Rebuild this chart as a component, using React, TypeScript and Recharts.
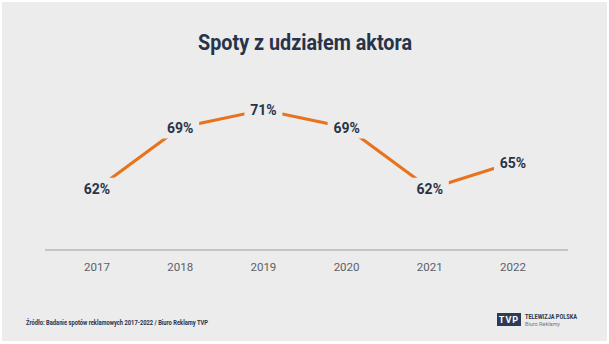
import React from 'react';
import { LineChart, Line, XAxis, YAxis, LabelList } from 'recharts';

// Spoty z udziałem aktora, 2017-2022 (%)
const years = ['2017', '2018', '2019', '2020', '2021', '2022'];
const shares = [62, 69, 71, 69, 62, 65];

const BG = '#ebeceb';
const NAVY = '#28334a';
const ORANGE = '#e8731f';

const data = years.map((year, i) => ({ year, share: shares[i] }));

const ValueLabel = (props: any) => {
  const { x, y, value } = props;
  return (
    <g>
      <rect x={x - 19} y={y - 11} width={38} height={22} fill={BG} />
      <text
        x={x}
        y={y}
        dy={5}
        textAnchor="middle"
        fontFamily="Roboto"
        fontWeight={700}
        fontSize={14}
        fill={NAVY}
      >
        {value}%
      </text>
    </g>
  );
};

export default function App() {
  return (
    <div style={{ position: 'absolute', left: 0, top: 0, width: 609, height: 344, background: '#fff' }}>
      <div style={{ position: 'absolute', left: 2, top: 2, right: 2, bottom: 3, background: BG }} />
      <div style={{ position: 'absolute', left: 0, top: 0 }}>
        <LineChart
          width={609}
          height={344}
          data={data}
          margin={{ top: 110, right: 41, bottom: 64, left: 45 }}
        >
          <XAxis
            dataKey="year"
            height={30}
            axisLine={{ stroke: '#b7b9bc', strokeWidth: 1.5 }}
            tickLine={false}
            tickMargin={7}
            padding={{ left: 52, right: 55 }}
            tick={{ fill: '#5b6069', fontSize: 11.5, fontFamily: 'Roboto' }}
          />
          <YAxis hide domain={[55, 71]} />
          <Line
            dataKey="share"
            stroke={ORANGE}
            strokeWidth={3}
            dot={false}
            isAnimationActive={false}
          >
            <LabelList dataKey="share" content={ValueLabel} />
          </Line>
        </LineChart>
      </div>
      <svg
        width={609}
        height={344}
        style={{ position: 'absolute', left: 0, top: 0, pointerEvents: 'none' }}
      >
        <text
          x={305}
          y={50}
          textAnchor="middle"
          fontFamily="Roboto"
          fontWeight={700}
          fontSize={22}
          fill={NAVY}
          textLength={214}
          lengthAdjust="spacingAndGlyphs"
        >
          Spoty z udziałem aktora
        </text>
        <text
          x={26}
          y={325}
          fontFamily="Roboto"
          fontWeight={700}
          fontSize={6.5}
          fill={NAVY}
          textLength={182}
          lengthAdjust="spacingAndGlyphs"
        >
          Źródło: Badanie spotów reklamowych 2017-2022 / Biuro Reklamy TVP
        </text>
        <rect x={497} y={313} width={24} height={13} fill="#2b3a55" />
        <text x={509} y={323} textAnchor="middle" fontFamily="Roboto" fontWeight={700} fontSize={9} fill="#fff" letterSpacing={1}>
          TVP
        </text>
        <text x={525} y={319} fontFamily="Roboto" fontWeight={700} fontSize={6.5} fill={NAVY} textLength={52} lengthAdjust="spacingAndGlyphs">
          TELEWIZJA POLSKA
        </text>
        <text x={525} y={326} fontFamily="Roboto" fontSize={5.5} fill="#6a7a95">
          Biuro Reklamy
        </text>
      </svg>
    </div>
  );
}
